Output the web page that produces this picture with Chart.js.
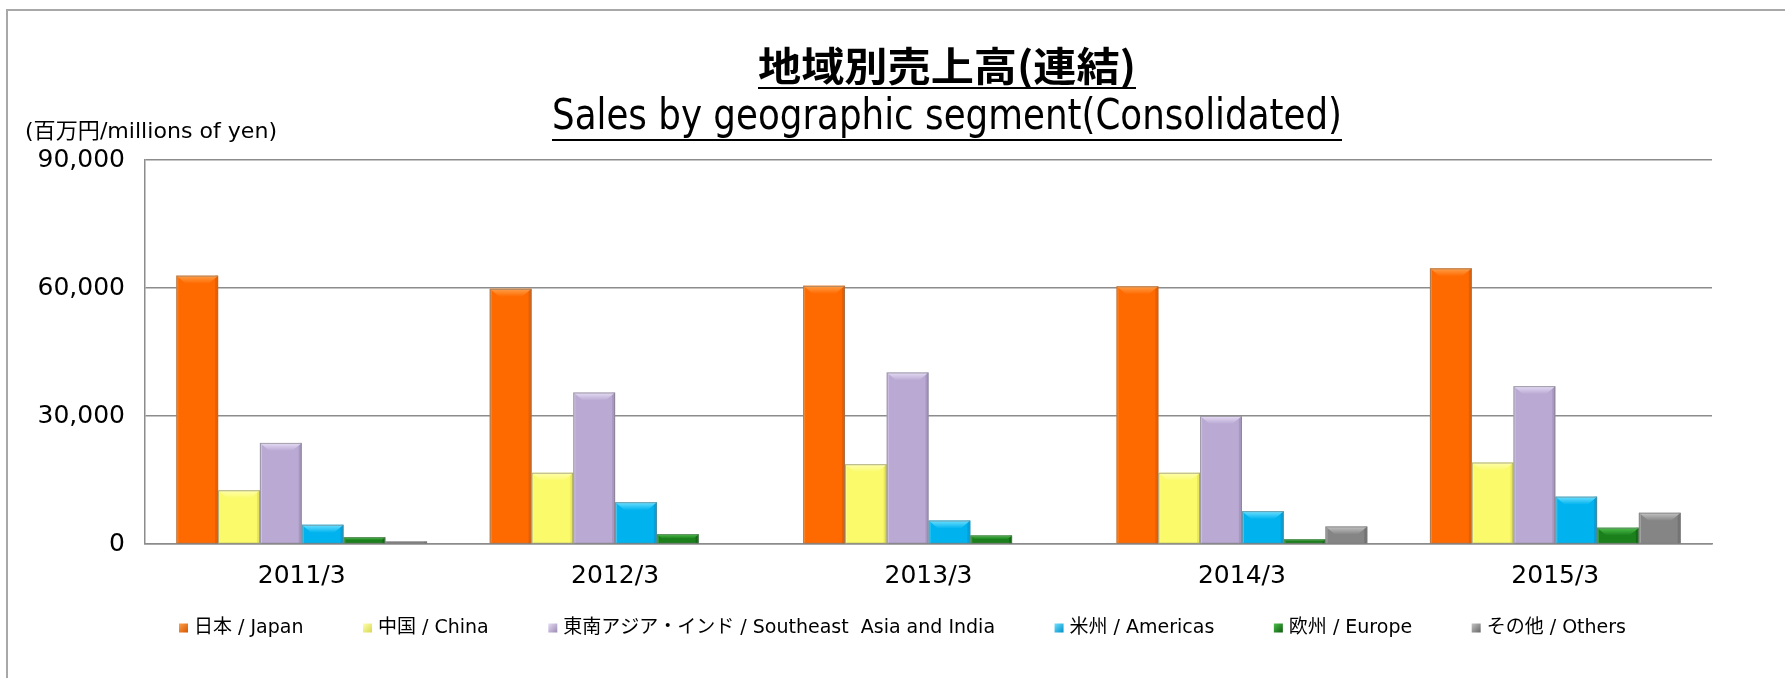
<!DOCTYPE html>
<html>
<head>
<meta charset="utf-8">
<script src="https://cdn.jsdelivr.net/npm/chart.js@4"></script>
<style>
html,body{margin:0;padding:0;background:#fff;overflow:hidden;}
canvas{display:block;}
</style>
</head>
<body>
<canvas id="c" width="1785" height="678"></canvas>
<script>
// ---- data ----
const categories = ['2011/3', '2012/3', '2013/3', '2014/3', '2015/3'];
const seriesNames = ['日本 / Japan', '中国 / China', '東南アジア・インド / Southeast  Asia and India', '米州 / Americas', '欧州 / Europe', 'その他 / Others'];
const japan    = [62900, 59800, 60500, 60400, 64600];
const china    = [12600, 16700, 18700, 16700, 19100];
const sea      = [23700, 35500, 40200, 30000, 37000];
const americas = [4500, 9800, 5500, 7700, 11100];
const europe   = [1600, 2300, 2000, 1100, 3800];
const others   = [600, 0, 0, 4100, 7300];
const yTicks   = [0, 30000, 60000, 90000];
const titleLines = ['地域別売上高(連結)', 'Sales by geographic segment(Consolidated)'];
const unitLabel = '(百万円/millions of yen)';

// ---- styles ----
const bodyColors  = ['#FF6A00', '#FAFA6A', '#B9A9D3', '#00B3EF', '#1B7F1B', '#858585'];
const lightColors = ['#FFA04A', '#FFFFB0', '#E6DDF5', '#6FE0FF', '#4CC04C', '#C4C4C4'];
const darkColors  = ['#D65600', '#D8D850', '#9A8AB2', '#0090C8', '#0E5A0E', '#666666'];
const FONT = "'DejaVu Sans', 'Noto Sans CJK JP', sans-serif";

const allSeries = [japan, china, sea, americas, europe, others];

const framePlugin = {
  id: 'frame',
  beforeDraw(chart) {
    const ctx = chart.ctx;
    ctx.save();
    ctx.fillStyle = '#fff';
    ctx.fillRect(0, 0, chart.width, chart.height);
    ctx.strokeStyle = '#A8A8A8';
    ctx.lineWidth = 2;
    ctx.strokeRect(7, 10, chart.width + 20, chart.height + 20);
    ctx.restore();
  }
};

function drawFitted(ctx, text, cx, cy, targetW, font, underline, align) {
  ctx.save();
  ctx.font = font;
  const w = ctx.measureText(text).width;
  const s = targetW / w;
  ctx.translate(cx, cy);
  ctx.scale(s, 1);
  ctx.textBaseline = 'middle';
  ctx.textAlign = align || 'center';
  ctx.fillStyle = '#000';
  ctx.fillText(text, 0, 0);
  ctx.restore();
  if (underline) {
    ctx.save();
    ctx.strokeStyle = '#000';
    ctx.lineWidth = 2;
    ctx.beginPath();
    ctx.moveTo(cx - targetW / 2, underline);
    ctx.lineTo(cx + targetW / 2, underline);
    ctx.stroke();
    ctx.restore();
  }
}

const textPlugin = {
  id: 'texts',
  afterDraw(chart) {
    const ctx = chart.ctx;
    drawFitted(ctx, titleLines[0], 947, 66, 378, "bold 40px 'Noto Sans CJK JP', sans-serif", 88);
    drawFitted(ctx, titleLines[1], 947, 118, 790, "42px " + FONT, 140);
    ctx.save();
    ctx.font = "22px " + FONT;
    const w = ctx.measureText(unitLabel).width;
    ctx.translate(25, 132);
    ctx.scale(252 / w, 1);
    ctx.textBaseline = 'middle';
    ctx.textAlign = 'left';
    ctx.fillStyle = '#000';
    ctx.fillText(unitLabel, 0, 0);
    ctx.restore();
  }
};

// legend drawn from the dataset labels
const legendPlugin = {
  id: 'customLegend',
  afterDraw(chart) {
    const ctx = chart.ctx;
    const spanLeft = 179, spanRight = 1626, cy = 628, box = 9, gapBox = 6;
    ctx.save();
    ctx.font = "19px " + FONT;
    const ds = chart.data.datasets;
    const widths = ds.map(d => ctx.measureText(d.label).width);
    const itemW = widths.map(w => box + gapBox + w);
    const total = itemW.reduce((a, b) => a + b, 0);
    const gap = (spanRight - spanLeft - total) / (ds.length - 1);
    let x = spanLeft;
    ds.forEach((d, i) => {
      const g = ctx.createLinearGradient(x, cy - box / 2, x + box, cy + box / 2);
      g.addColorStop(0, lightColors[i]);
      g.addColorStop(1, darkColors[i]);
      ctx.fillStyle = g;
      ctx.fillRect(x, cy - box / 2, box, box);
      ctx.fillStyle = '#000';
      ctx.textBaseline = 'middle';
      ctx.textAlign = 'left';
      ctx.fillText(d.label, x + box + gapBox, cy);
      x += itemW[i] + gap;
    });
    ctx.restore();
  }
};

const bevelPlugin = {
  id: 'bevel',
  afterDatasetsDraw(chart) {
    const ctx = chart.ctx;
    chart.data.datasets.forEach((ds, di) => {
      const meta = chart.getDatasetMeta(di);
      meta.data.forEach((bar) => {
        const h = bar.base - bar.y;
        if (h <= 0.5) return;
        const x0 = bar.x - bar.width / 2, x1 = bar.x + bar.width / 2;
        const top = bar.y;
        const b = Math.min(8, h / 2);
        ctx.save();
        ctx.fillStyle = darkColors[di];
        ctx.globalAlpha = 0.55;
        ctx.fillRect(x1 - 3, top, 3, h);
        ctx.fillStyle = lightColors[di];
        ctx.globalAlpha = 0.5;
        ctx.fillRect(x0, top, 2, h);
        ctx.globalAlpha = 1;
        const g = ctx.createLinearGradient(0, top, 0, top + b);
        g.addColorStop(0, lightColors[di]);
        g.addColorStop(1, bodyColors[di]);
        ctx.fillStyle = g;
        ctx.beginPath();
        ctx.moveTo(x0, top);
        ctx.lineTo(x1, top);
        ctx.lineTo(x1 - b * 1.2, top + b);
        ctx.lineTo(x0 + b * 1.2, top + b);
        ctx.closePath();
        ctx.fill();
        ctx.strokeStyle = 'rgba(120,120,120,0.6)';
        ctx.lineWidth = 1;
        ctx.strokeRect(x0 + 0.5, top + 0.5, bar.width - 1, h - 0.5);
        ctx.restore();
      });
    });
  }
};

new Chart(document.getElementById('c'), {
  type: 'bar',
  data: {
    labels: categories,
    datasets: allSeries.map((vals, i) => ({
      label: seriesNames[i],
      data: vals,
      backgroundColor: bodyColors[i],
      borderWidth: 0,
      categoryPercentage: 0.8,
      barPercentage: 1.0
    }))
  },
  options: {
    responsive: false,
    animation: false,
    devicePixelRatio: 1,
    layout: { padding: { top: 160, right: 73, bottom: 76, left: 0 } },
    plugins: {
      title: { display: false },
      tooltip: { enabled: false },
      legend: { display: false }
    },
    scales: {
      x: {
        grid: { display: false, drawTicks: false },
        border: { display: true, color: '#8C8C8C', width: 1.5 },
        ticks: { color: '#000', font: { family: FONT, size: 25 }, padding: 17 },
        afterFit(scale) { scale.height = 58; }
      },
      y: {
        min: 0,
        max: 90000,
        afterBuildTicks(scale) { scale.ticks = yTicks.map(v => ({ value: v })); },
        grid: { color: '#8C8C8C', lineWidth: 1.5, drawTicks: false },
        border: { display: true, color: '#8C8C8C', width: 1.5 },
        ticks: {
          color: '#000',
          padding: 20,
          font: { family: FONT, size: 25 },
          callback: (v) => v.toLocaleString('en-US')
        },
        afterFit(scale) { scale.width = 145; }
      }
    }
  },
  plugins: [framePlugin, bevelPlugin, textPlugin, legendPlugin]
});
</script>
</body>
</html>
